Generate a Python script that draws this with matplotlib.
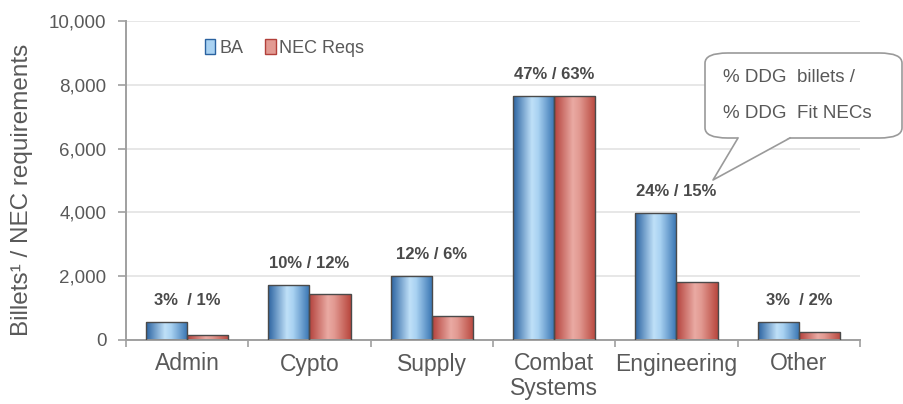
import matplotlib
matplotlib.use("Agg")
import matplotlib.pyplot as plt
import numpy as np
from matplotlib.colors import LinearSegmentedColormap
from matplotlib.patches import FancyBboxPatch, Polygon, Patch
from matplotlib.lines import Line2D

plt.rcParams['font.family'] = ['Liberation Sans', 'DejaVu Sans']

categories = ["Admin", "Cypto", "Supply", "Combat\nSystems", "Engineering", "Other"]
ba = [560, 1720, 2000, 7660, 3970, 560]
nec = [150, 1440, 750, 7660, 1810, 250]
pct_labels = ["3%  / 1%", "10% / 12%", "12% / 6%", "47% / 63%", "24% / 15%", "3%  / 2%"]
series_names = ["BA", "NEC Reqs"]

text_col = "#595959"
blue_cmap = LinearSegmentedColormap.from_list(
    "b", [(0, "#2a62a0"), (0.45, "#bfe0f8"), (0.6, "#a9d2f2"), (1, "#3572b0")])
red_cmap = LinearSegmentedColormap.from_list(
    "r", [(0, "#b2403a"), (0.45, "#eaaaa3"), (0.6, "#e29a92"), (1, "#b8463d")])

fig = plt.figure(figsize=(9.04, 4.04), dpi=100)
ax = fig.add_axes([126 / 904, 64 / 404, (860 - 126) / 904, (340 - 21) / 404])

x = np.arange(len(categories))
w = 0.336
grad = np.linspace(0, 1, 256).reshape(1, -1)


def gradient_bars(xs, vals, cmap, edge):
    bars = ax.bar(xs, vals, w, color="none", edgecolor=edge, linewidth=1.0, zorder=3)
    for b in bars:
        x0, y0 = b.get_x(), b.get_y()
        im = ax.imshow(grad, cmap=cmap, aspect="auto", zorder=2,
                       extent=[x0, x0 + b.get_width(), y0, y0 + b.get_height()])
        im.set_clip_path(b)
    return bars


gradient_bars(x - w / 2, ba, blue_cmap, "#4a4a4a")
gradient_bars(x + w / 2, nec, red_cmap, "#4a4a4a")

for xi, top, lab in zip(x, np.maximum(ba, nec), pct_labels):
    ax.annotate(lab, (xi, top), xytext=(0, 10), textcoords="offset points",
                ha="center", va="bottom", fontsize=12, fontweight="bold", color="#4a4a4a")

ax.set_xlim(-0.5, len(categories) - 0.5)
ax.set_ylim(0, 10000)
ax.set_yticks(range(0, 10001, 2000))
ax.set_yticklabels([f"{v:,}" for v in range(0, 10001, 2000)])
ax.yaxis.grid(True, color="#e3e3e3", linewidth=1.2, zorder=0)
ax.set_axisbelow(True)

ax.set_xticks(x)
ax.set_xticklabels(categories, fontsize=16.5, color=text_col, linespacing=1.1)
ax.tick_params(axis="x", length=0, pad=9)
ax.set_xticks(np.arange(-0.5, len(categories), 1), minor=True)
ax.tick_params(axis="x", which="minor", length=5, color="#a0a0a0", width=1.2)
ax.tick_params(axis="y", length=6, color="#a0a0a0", width=1.2, labelsize=13.5,
               labelcolor=text_col, pad=8)

for s in ["top", "right"]:
    ax.spines[s].set_visible(False)
for s in ["left", "bottom"]:
    ax.spines[s].set_color("#a0a0a0")
    ax.spines[s].set_linewidth(1.4)

ax.set_ylabel("Billets¹ / NEC requirements", fontsize=17.5, color=text_col)
ax.yaxis.set_label_coords(-0.127, 0.47)

handles = [Patch(facecolor="#a9d2f2", edgecolor="#2a62a0"),
           Patch(facecolor="#e29a92", edgecolor="#b2403a")]
ax.legend(handles, series_names, loc="upper left", bbox_to_anchor=(0.085, 0.995), ncol=2,
          frameon=False, fontsize=13, handlelength=0.6, handleheight=0.9,
          handletextpad=0.2, columnspacing=1.2, labelcolor=text_col)

# callout box
def fx(px):
    return px / 904


def fy(py):
    return 1 - py / 404


box = FancyBboxPatch((fx(705), fy(138)), fx(902) - fx(705), fy(53) - fy(138),
                     boxstyle="round,pad=0,rounding_size=0.025", transform=fig.transFigure,
                     facecolor="white", edgecolor="#9a9a9a", linewidth=1.2, zorder=5)
fig.add_artist(box)
tri = Polygon([(fx(738), fy(137)), (fx(713), fy(180)), (fx(790), fy(137))],
              closed=False, transform=fig.transFigure, facecolor="white",
              edgecolor="none", zorder=6)
fig.add_artist(tri)
fig.add_artist(Line2D([fx(738), fx(713), fx(790)], [fy(138), fy(180), fy(138)],
                      transform=fig.transFigure, color="#9a9a9a", linewidth=1.2, zorder=7))
fig.text(fx(723), fy(78), "% DDG  billets /", fontsize=13.5, color=text_col,
         va="center", ha="left", zorder=8)
fig.text(fx(723), fy(114), "% DDG  Fit NECs", fontsize=13.5, color=text_col,
         va="center", ha="left", zorder=8)

fig.savefig("out.png", dpi=100)
